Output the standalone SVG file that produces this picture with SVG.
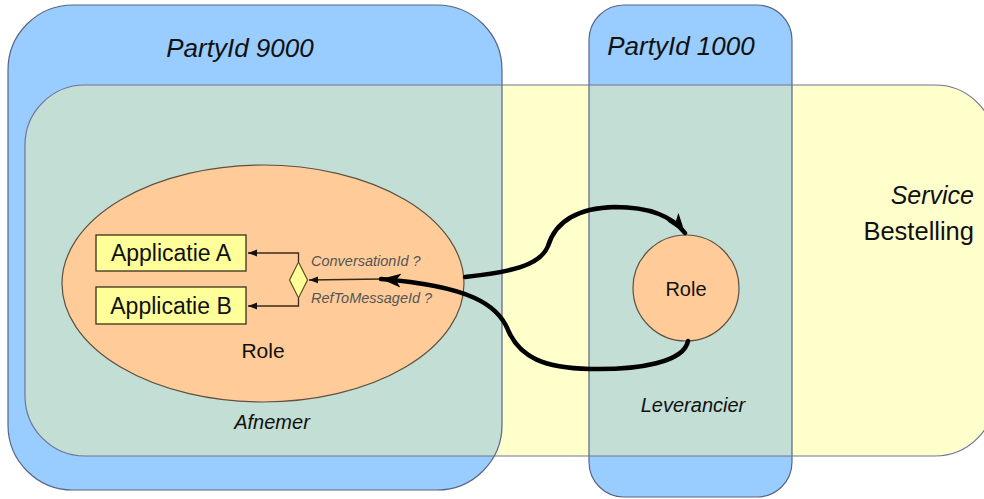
<svg xmlns="http://www.w3.org/2000/svg" width="984" height="499" viewBox="0 0 984 499">
<style>
.lbl{font-family:"Liberation Sans",Arial,sans-serif;fill:#111}
.it{font-style:italic}
.small{font-family:"Liberation Sans",Arial,sans-serif;font-style:italic;font-size:14.5px;fill:#555}
.edge{fill:none;stroke:#5A6484;stroke-width:1.2}
.thick{fill:none;stroke:#000;stroke-width:4.5;stroke-linecap:round}
.thin{fill:none;stroke:#3A2A1A;stroke-width:1.3}
.app{fill:#FFFF99;stroke:#3A3020;stroke-width:1.3}
</style>
<defs>
<clipPath id="svcClip"><rect x="25" y="85" width="970" height="371" rx="60"/></clipPath>
<marker id="bigArrow" markerUnits="userSpaceOnUse" markerWidth="22" markerHeight="16" refX="20" refY="8" orient="auto">
<path d="M0,1 L20,8 L0,15 L5,8 Z" fill="#000"/>
</marker>
<marker id="smallArrow" markerUnits="userSpaceOnUse" markerWidth="10" markerHeight="8" refX="9" refY="4" orient="auto">
<path d="M0,0.5 L9,4 L0,7.5 Z" fill="#111"/>
</marker>
</defs>

<g id="fills">
<rect x="8" y="5" width="494" height="485" rx="65" fill="#99CCFF"/>
<rect x="589" y="5" width="203" height="492" rx="35" fill="#99CCFF"/>
<rect x="25" y="85" width="970" height="371" rx="60" fill="#FFFFCC"/>
<g clip-path="url(#svcClip)" fill="#C3DED4">
<rect x="8" y="5" width="494" height="485" rx="65"/>
<rect x="589" y="5" width="203" height="492" rx="35"/>
</g>
</g>

<g id="party9000">
<rect class="edge" x="8" y="5" width="494" height="485" rx="65"/>
<text class="lbl it" x="240" y="57" font-size="26" text-anchor="middle">PartyId 9000</text>
</g>
<g id="party1000">
<rect class="edge" x="589" y="5" width="203" height="492" rx="35"/>
<text class="lbl it" x="681" y="55" font-size="26" text-anchor="middle">PartyId 1000</text>
</g>
<g id="service">
<rect x="25" y="85" width="970" height="371" rx="60" fill="none" stroke="#6E7496" stroke-width="1.2"/>
<text class="lbl it" x="974" y="204" font-size="25" text-anchor="end">Service</text>
<text class="lbl" x="974" y="240" font-size="25.5" text-anchor="end">Bestelling</text>
</g>

<g id="afnemer">
<text class="lbl it" x="272" y="429" font-size="20" text-anchor="middle">Afnemer</text>
</g>
<g id="roleAfnemer">
<ellipse cx="263" cy="283.5" rx="201" ry="118.5" fill="#FFCC99" stroke="#5E5040" stroke-width="1.2"/>
<text class="lbl" x="263" y="358" font-size="21" text-anchor="middle">Role</text>
</g>
<g id="appA">
<rect class="app" x="96" y="235" width="150" height="36"/>
<text class="lbl" x="171" y="261" font-size="23" text-anchor="middle">Applicatie A</text>
</g>
<g id="appB">
<rect class="app" x="96" y="287" width="150" height="37"/>
<text class="lbl" x="171" y="314" font-size="23" text-anchor="middle">Applicatie B</text>
</g>
<g id="decision">
<polygon points="298.5,262 307.5,280 298.5,298 289.5,280" fill="#FFFF99" stroke="#5E5020" stroke-width="1.2"/>
<text class="small" x="311" y="266">ConversationId ?</text>
<text class="small" x="311" y="303">RefToMessageId ?</text>
</g>
<g id="leverancier">
<text class="lbl it" x="693" y="412" font-size="20" text-anchor="middle">Leverancier</text>
</g>
<g id="roleLeverancier">
<circle cx="686" cy="288" r="53" fill="#FFCC99" stroke="#5E5040" stroke-width="1.2"/>
<text class="lbl" x="686" y="296" font-size="20" text-anchor="middle">Role</text>
</g>

<g id="connectors">
<polyline class="thin" points="298.5,262 298.5,253 248,253" marker-end="url(#smallArrow)"/>
<polyline class="thin" points="298.5,298 298.5,306 248,306" marker-end="url(#smallArrow)"/>
<line class="thin" x1="382" y1="279" x2="309" y2="280" marker-end="url(#smallArrow)"/>
<path class="thick" d="M465 277 C510 272 540 266 548 246 C555 223 575 208 615 207 C650 207 672 216 685 233" marker-end="url(#bigArrow)"/>
<path class="thick" d="M688 341 C684 362 640 370 590 369 C545 368 520 358 508 330 C498 305 470 286 381 279" marker-end="url(#bigArrow)"/>
</g>
</svg>
